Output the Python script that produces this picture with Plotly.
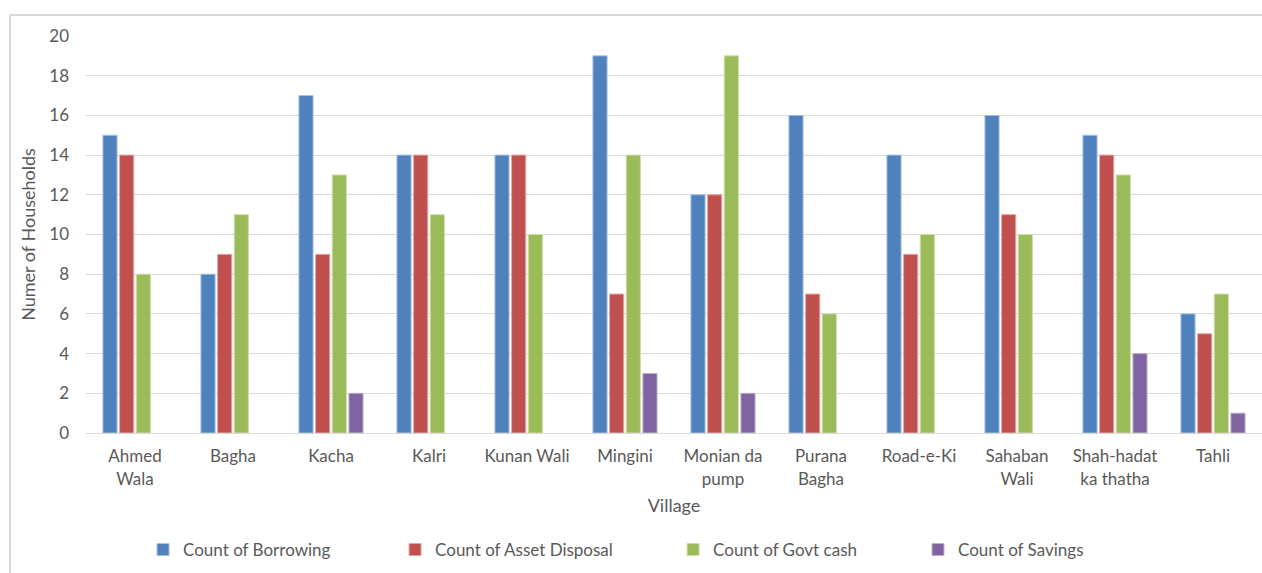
import plotly.graph_objects as go

villages = ["Ahmed Wala", "Bagha", "Kacha", "Kalri", "Kunan Wali", "Mingini",
            "Monian da pump", "Purana Bagha", "Road-e-Ki", "Sahaban Wali",
            "Shah-hadat ka thatha", "Tahli"]
tick_text = ["Ahmed<br>Wala", "Bagha", "Kacha", "Kalri", "Kunan Wali", "Mingini",
             "Monian da<br>pump", "Purana<br>Bagha", "Road-e-Ki", "Sahaban<br>Wali",
             "Shah-hadat<br>ka thatha", "Tahli"]

borrowing = [15, 8, 17, 14, 14, 19, 12, 16, 14, 16, 15, 6]
asset_disposal = [14, 9, 9, 14, 14, 7, 12, 7, 9, 11, 14, 5]
govt_cash = [8, 11, 13, 11, 10, 14, 19, 6, 10, 10, 13, 7]
savings = [0, 0, 2, 0, 0, 3, 2, 0, 0, 0, 4, 1]

series = [
    ("Count of Borrowing", borrowing, "#4F81BD", "#A7C0DE"),
    ("Count of Asset Disposal", asset_disposal, "#C0504D", "#E0A8A6"),
    ("Count of Govt cash", govt_cash, "#9BBB59", "#CDDDAC"),
    ("Count of Savings", savings, "#8064A2", "#BFB1D0"),
]
legend_x = [0.0485, 0.2628, 0.4992, 0.7075]

W, H = 1262, 573
ML, MR, MT, MB = 86, 0, 36, 140
pw, ph = W - ML - MR, H - MT - MB

font_family = "Lato, 'Open Sans', sans-serif"
text_color = "#595959"

fig = go.Figure()
for i, (name, vals, color, edge) in enumerate(series):
    lg = "legend" if i == 0 else f"legend{i + 1}"
    # empty categories get no bar at all
    shown = [v if v != 0 else None for v in vals]
    fig.add_trace(go.Bar(
        x=villages, y=shown, name=name,
        marker=dict(color=color, line=dict(color=edge, width=1)),
        legend=lg, showlegend=True,
    ))

legend_y = -(550 - (MT + ph)) / ph
legends = {}
for i, lx in enumerate(legend_x):
    key = "legend" if i == 0 else f"legend{i + 1}"
    legends[key] = dict(
        x=lx, y=legend_y, xanchor="left", yanchor="middle",
        orientation="h", bgcolor="rgba(0,0,0,0)",
        font=dict(family=font_family, size=17, color=text_color),
        itemwidth=30, tracegroupgap=0,
    )

# light frame around the chart area (top and left edges)
fx0 = (10 - ML) / pw
fy_top = 1 + (MT - 15) / ph
fy_bot = -MB / ph
shapes = [
    dict(type="line", xref="paper", yref="paper", x0=fx0, x1=1.0, y0=fy_top, y1=fy_top,
         line=dict(color="#D9D9D9", width=2)),
    dict(type="line", xref="paper", yref="paper", x0=fx0, x1=fx0, y0=fy_top, y1=fy_bot,
         line=dict(color="#D9D9D9", width=2)),
]

fig.update_layout(
    width=W, height=H,
    margin=dict(l=ML, r=MR, t=MT, b=MB),
    paper_bgcolor="white", plot_bgcolor="white",
    barmode="group", bargap=0.32, bargroupgap=0.15,
    font=dict(family=font_family, size=17, color=text_color),
    showlegend=True,
    shapes=shapes,
    **legends,
)

fig.update_xaxes(
    tickmode="array", tickvals=villages, ticktext=tick_text,
    showgrid=False, showline=True, linecolor="#D9D9D9", linewidth=1,
    ticks="", ticklabelstandoff=8, tickfont=dict(size=17, color=text_color),
    title=dict(text="Village", font=dict(size=18, color=text_color), standoff=11),
    automargin=False,
)
fig.update_yaxes(
    range=[0, 20], dtick=2, tickformat="d",
    showgrid=True, gridcolor="#D9D9D9", gridwidth=1,
    zeroline=False, showline=False, ticks="",
    ticklabelstandoff=16,
    tickfont=dict(size=17, color=text_color),
    title=dict(text="Numer of Households", font=dict(size=18, color=text_color), standoff=8),
    automargin=False,
)

fig.write_html("out.html")
